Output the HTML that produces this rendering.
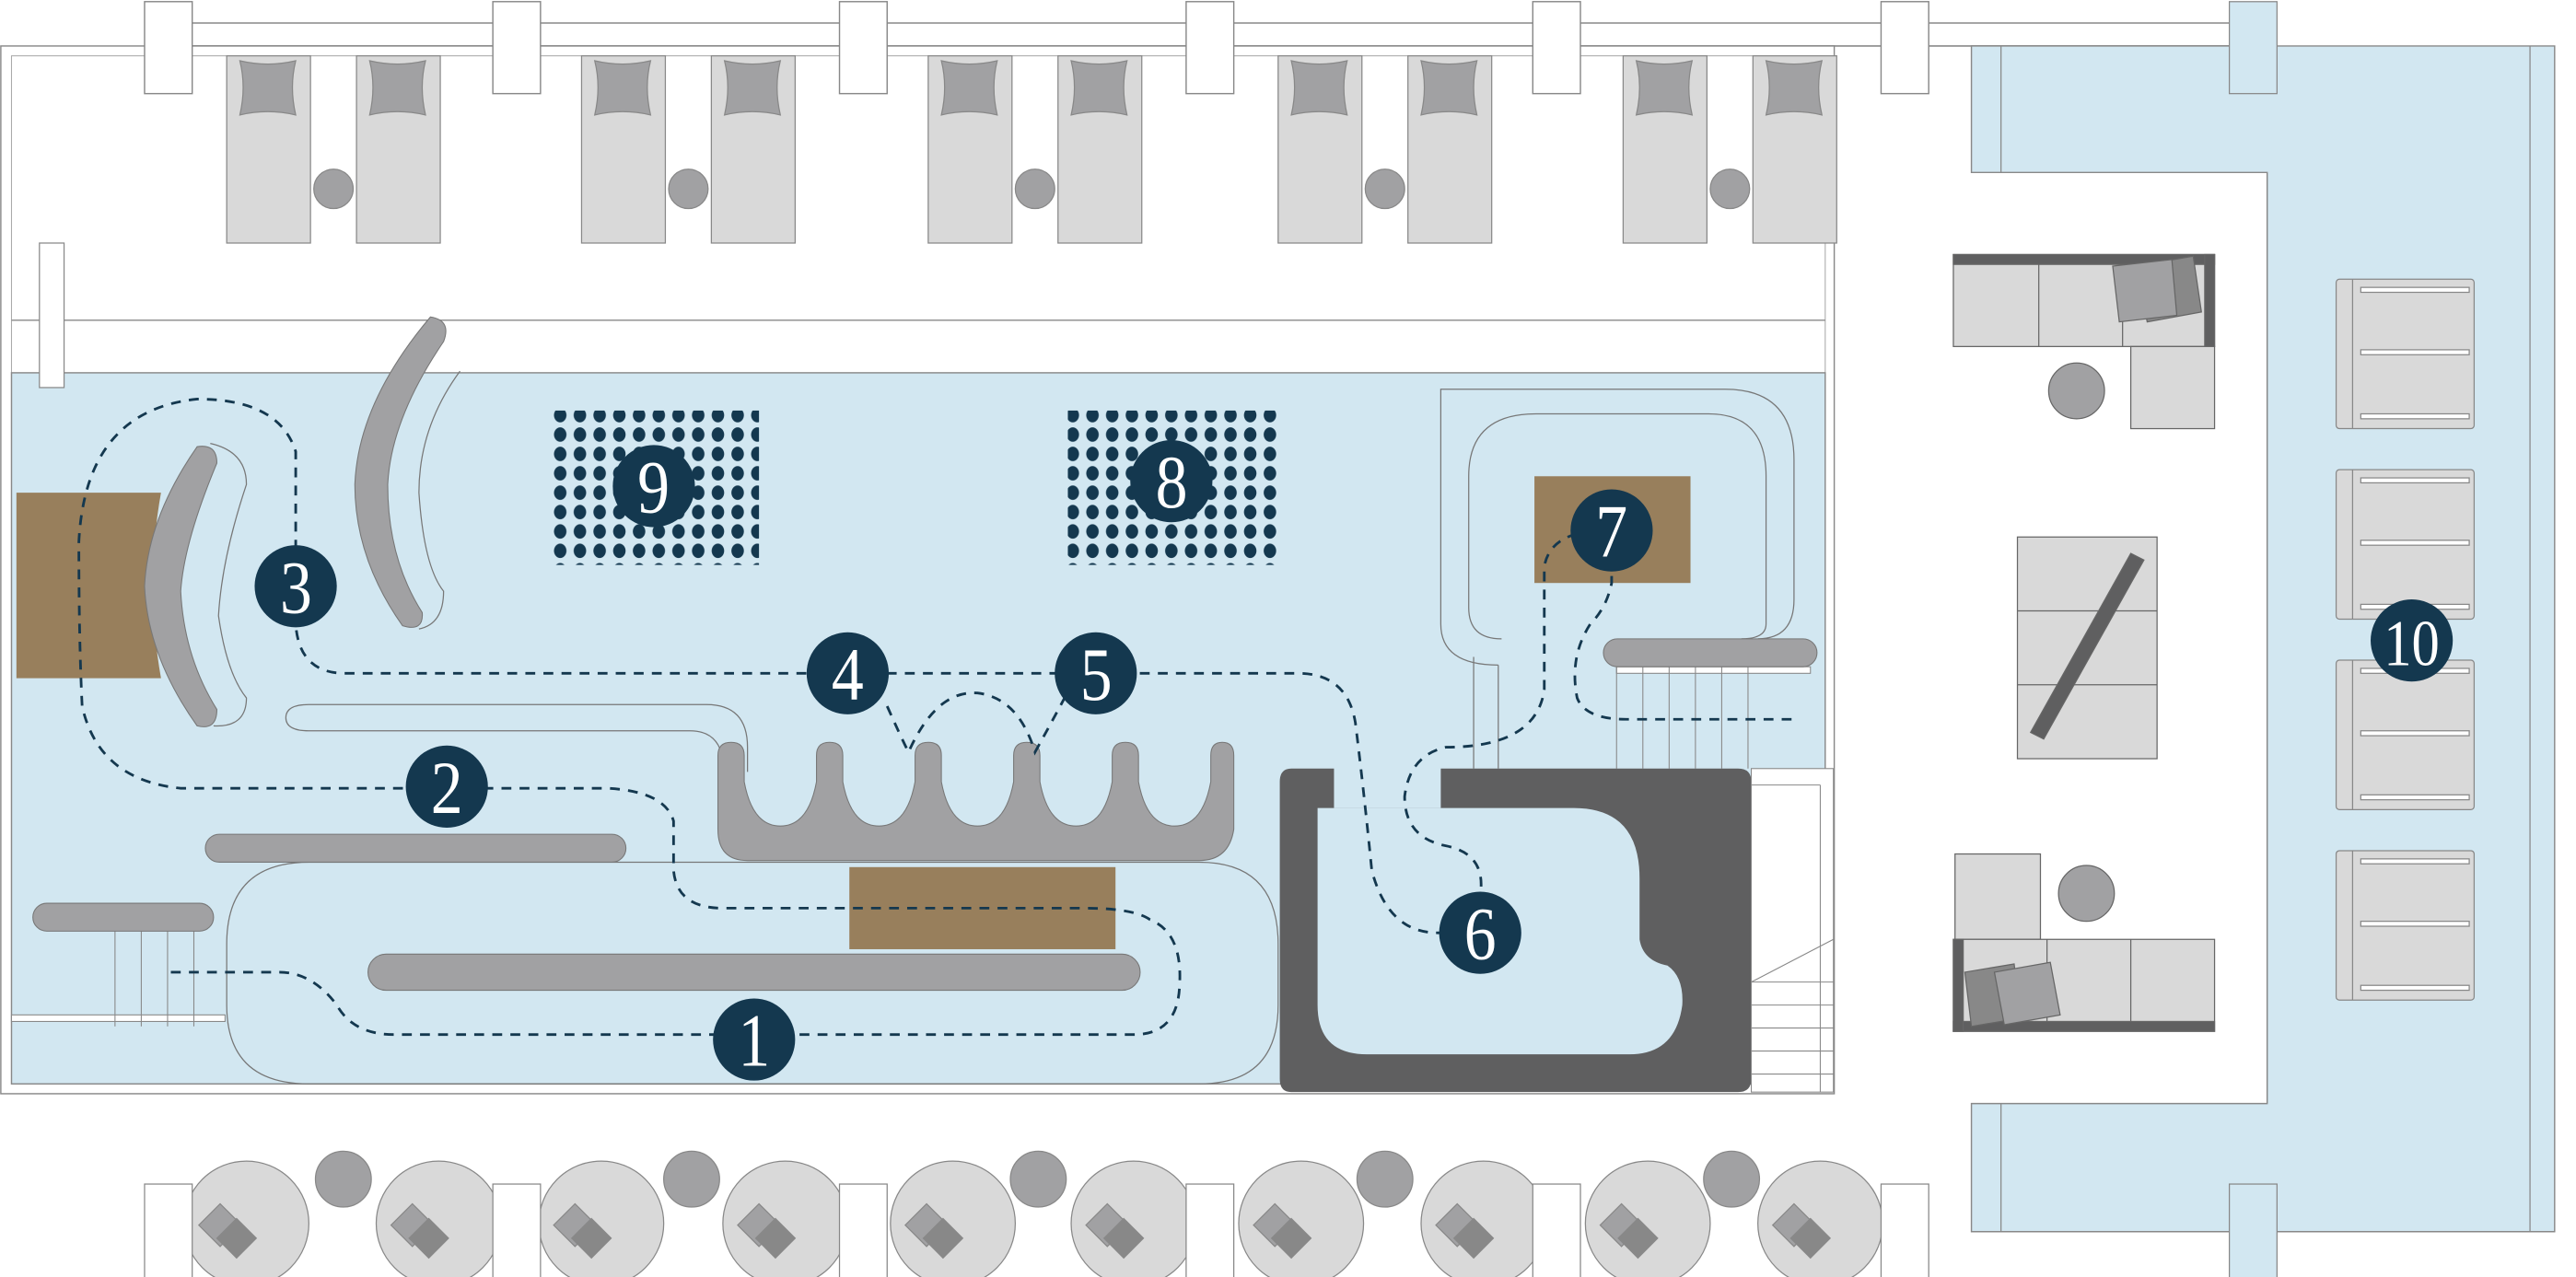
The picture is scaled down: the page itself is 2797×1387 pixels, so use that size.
<!DOCTYPE html>
<html><head><meta charset="utf-8"><style>html,body{margin:0;padding:0;background:#fff}svg{display:block}</style></head>
<body>
<svg width="2797" height="1387" viewBox="0 0 1568 777.6" preserveAspectRatio="none" xmlns="http://www.w3.org/2000/svg">
<defs>
<pattern id="dots" x="0" y="0" width="12" height="11.8" patternUnits="userSpaceOnUse"><ellipse cx="5" cy="5" rx="3.8" ry="4.4" fill="#14384f"/></pattern>
</defs>
<rect width="1568" height="778" fill="#fff"/>
<line x1="88" y1="14" x2="1385" y2="14" stroke="#999" stroke-width="1"/>
<line x1="88" y1="28" x2="1385" y2="28" stroke="#999" stroke-width="1"/>
<path d="M1200,28 H1555 V750 H1200 V672 H1380 V105 H1200 Z" fill="#d2e7f1" stroke="#888" stroke-width="0.8"/>
<line x1="1218" y1="28" x2="1218" y2="105" stroke="#888" stroke-width="0.7"/>
<line x1="1218" y1="672" x2="1218" y2="750" stroke="#888" stroke-width="0.7"/>
<line x1="1540" y1="28" x2="1540" y2="750" stroke="#888" stroke-width="0.7"/>
<line x1="1380" y1="105" x2="1380" y2="672" stroke="#888" stroke-width="0.7"/>
<rect x="0.5" y="28" width="1116" height="638" fill="#fff" stroke="#888" stroke-width="0.8"/>
<rect x="7" y="34" width="1104" height="626" fill="none" stroke="#aaa" stroke-width="0.6"/>
<line x1="7" y1="195" x2="1111" y2="195" stroke="#888" stroke-width="0.8"/>
<rect x="7" y="227" width="1104" height="433" fill="#d2e7f1" stroke="#888" stroke-width="0.8"/>
<rect x="24" y="148" width="15" height="88" fill="#fff" stroke="#888" stroke-width="0.7"/>
<g fill="#fff" stroke="#888" stroke-width="0.8">
<rect x="88" y="1" width="29" height="56"/><rect x="300" y="1" width="29" height="56"/><rect x="511" y="1" width="29" height="56"/><rect x="722" y="1" width="29" height="56"/><rect x="933" y="1" width="29" height="56"/><rect x="1145" y="1" width="29" height="56"/>
</g>
<g id="pair" stroke="#888" stroke-width="0.7">
<rect x="138" y="34" width="51" height="114" fill="#d9d9d9"/><rect x="217" y="34" width="51" height="114" fill="#d9d9d9"/>
<path d="M146,37 Q163,41 180,37 Q176,53 180,70 Q163,66 146,70 Q150,53 146,37Z" fill="#a1a1a3"/>
<path d="M225,37 Q242,41 259,37 Q255,53 259,70 Q242,66 225,70 Q229,53 225,37Z" fill="#a1a1a3"/>
<circle cx="203" cy="115" r="12" fill="#a1a1a3"/>
</g>
<use href="#pair" x="216"/><use href="#pair" x="427"/><use href="#pair" x="640"/><use href="#pair" x="850"/>
<g fill="none" stroke="#777" stroke-width="0.7">
<path d="M188,429 H430 Q455,429 455,455 V470 M188,429 Q174,429 174,437 Q174,445 188,445 H420 Q437,445 440,462"/>
<path d="M188,525 H730 Q778,525 778,575 V612 Q778,660 730,660 H188 Q138,660 138,612 V575 Q138,525 188,525Z"/>
<path d="M912,405 Q877,405 877,380 V237 H1050 Q1092,237 1092,280 V365 Q1092,389 1070,389 M914,389 Q894,389 894,370 V290 Q894,252 935,252 H1040 Q1075,252 1075,290 V380 Q1075,389 1060,389"/>
<line x1="912" y1="405" x2="912" y2="468"/><line x1="897" y1="400" x2="897" y2="468"/>
<path d="M128,270 Q150,275 150,295 Q135,340 133,375 Q138,410 150,425 Q150,443 130,442"/>
<path d="M280,226 Q255,260 255,300 Q258,345 270,360 Q270,380 255,383"/>
</g>
<g stroke="#888" stroke-width="0.6" fill="none">
<rect x="7" y="618" width="130" height="4" fill="#fff"/>
<line x1="70" y1="567" x2="70" y2="625"/><line x1="86" y1="567" x2="86" y2="625"/><line x1="102" y1="567" x2="102" y2="625"/><line x1="118" y1="567" x2="118" y2="625"/>
<rect x="984" y="406" width="118" height="4" fill="#fff"/>
<line x1="984" y1="406" x2="984" y2="468"/><line x1="1000" y1="406" x2="1000" y2="468"/><line x1="1016" y1="406" x2="1016" y2="468"/><line x1="1032" y1="406" x2="1032" y2="468"/><line x1="1048" y1="406" x2="1048" y2="468"/><line x1="1064" y1="406" x2="1064" y2="468"/>
</g>
<g fill="#987f5c">
<path d="M10,300 H98 Q88,356 98,413 H10Z"/>
<rect x="517" y="528" width="162" height="50"/>
<rect x="934" y="290" width="95" height="65"/>
</g>
<g fill="#a1a1a3" stroke="#777" stroke-width="0.6">
<rect x="125" y="508" width="256" height="17" rx="8.5"/>
<rect x="224" y="581" width="470" height="22" rx="11"/>
<rect x="20" y="550" width="110" height="17" rx="8.5"/>
<rect x="976" y="389" width="130" height="17" rx="8.5"/>
<path d="M437,460 Q437,452 445,452 Q453,452 453,460 V476 Q458,503 475,503 Q492,503 497,476 V460 Q497,452 505,452 Q513,452 513,460 V476 Q518,503 535,503 Q552,503 557,476 V460 Q557,452 565,452 Q573,452 573,460 V476 Q578,503 595,503 Q612,503 617,476 V460 Q617,452 625,452 Q633,452 633,460 V476 Q638,503 655,503 Q672,503 677,476 V460 Q677,452 685,452 Q693,452 693,460 V476 Q698,503 715,503 Q732,503 737,476 V460 Q737,452 744,452 Q751,452 751,460 V505 Q748,524 730,524 H455 Q437,524 437,505 Z"/>
<path d="M120,272 Q132,270 132,282 Q112,330 110,360 Q112,400 132,432 Q132,445 120,442 Q90,400 88,357 Q90,315 120,272Z"/>
<path d="M262,193 Q275,195 270,208 Q238,255 236,295 Q236,340 257,373 Q258,385 245,381 Q216,340 216,295 Q218,245 262,193Z"/>
</g>
<rect x="333" y="250" width="129" height="94" fill="url(#dots)"/>
<rect x="650" y="250" width="129" height="94" fill="url(#dots)"/>
<path d="M786,468 H812 V492 H877 V468 H1058 Q1066,468 1066,476 V657 Q1066,665 1058,665 H786 Q779,665 779,657 V476 Q779,468 786,468Z" fill="#5f5f60"/>
<path d="M802,492 H958 Q998,492 998,535 V572 Q1000,585 1015,588 Q1025,595 1024,612 Q1020,642 992,642 H832 Q802,642 802,612 Z" fill="#d2e7f1"/>
<g stroke="#888" stroke-width="0.6" fill="#fff">
<rect x="1066" y="468" width="50" height="197"/>
<line x1="1066" y1="478" x2="1108" y2="478"/><line x1="1108" y1="478" x2="1108" y2="665"/>
<line x1="1066" y1="598" x2="1116" y2="572"/><line x1="1066" y1="598" x2="1116" y2="598"/><line x1="1066" y1="612" x2="1116" y2="612"/><line x1="1066" y1="626" x2="1116" y2="626"/><line x1="1066" y1="640" x2="1116" y2="640"/><line x1="1066" y1="654" x2="1116" y2="654"/>
</g>
<path d="M104,592 H170 Q190,592 205,612 Q215,630 240,630 H690 Q717,630 718,600 Q720,568 700,560 Q690,553 660,553 H440 Q412,553 410,530 V500 Q405,482 370,480 H110 Q60,475 50,430 Q48,390 48,330 Q52,250 120,243 Q170,243 180,275 V380 Q182,410 210,410 H790 Q820,410 825,440 Q830,480 835,530 Q845,568 875,568 H901 V545 Q905,520 880,515 Q855,510 855,485 Q858,460 880,455 Q935,455 940,420 Q940,380 940,345 Q944,322 981,323 V355 Q978,370 968,380 Q955,400 960,425 Q965,438 990,438 H1092" fill="none" stroke="#14384f" stroke-width="1.6" stroke-dasharray="6,5"/>
<path d="M540,430 Q548,448 553,458 Q570,420 595,422 Q620,425 630,458 Q640,440 648,425" fill="none" stroke="#14384f" stroke-width="1.6" stroke-dasharray="6,5"/>
<g stroke="#666" stroke-width="0.7">
<rect x="1189" y="155" width="159" height="56" fill="#d9d9d9"/>
<rect x="1189" y="155" width="159" height="6" fill="#5f5f60"/>
<rect x="1342" y="155" width="6" height="56" fill="#5f5f60"/>
<line x1="1241" y1="161" x2="1241" y2="211"/><line x1="1292" y1="161" x2="1292" y2="211"/>
<rect x="1297" y="211" width="51" height="50" fill="#d9d9d9"/>
<path d="M1300,162 L1335,156 L1340,190 L1307,196Z" fill="#888"/>
<path d="M1286,162 L1322,158 L1325,192 L1290,196Z" fill="#a1a1a3"/>
<circle cx="1264" cy="238" r="17" fill="#a1a1a3"/>
<rect x="1228" y="327" width="85" height="135" fill="#d9d9d9"/>
<line x1="1228" y1="372" x2="1313" y2="372"/><line x1="1228" y1="417" x2="1313" y2="417"/>
<path d="M1297,337 L1305,341 L1244,450 L1236,446Z" fill="#5f5f60"/>
<rect x="1190" y="520" width="52" height="52" fill="#d9d9d9"/>
<circle cx="1270" cy="544" r="17" fill="#a1a1a3"/>
<rect x="1189" y="572" width="159" height="56" fill="#d9d9d9"/>
<rect x="1189" y="622" width="159" height="6" fill="#5f5f60"/>
<rect x="1189" y="572" width="6" height="56" fill="#5f5f60"/>
<line x1="1246" y1="572" x2="1246" y2="622"/><line x1="1297" y1="572" x2="1297" y2="622"/>
<path d="M1196,592 L1226,587 L1230,620 L1200,625Z" fill="#888"/>
<path d="M1214,592 L1248,586 L1254,618 L1220,624Z" fill="#a1a1a3"/>
</g>
<g id="lng" stroke="#888" stroke-width="0.7" fill="#d9d9d9">
<rect x="1422" y="170" width="84" height="91" rx="2"/>
<line x1="1432" y1="170" x2="1432" y2="261"/>
<rect x="1437" y="175" width="66" height="3" fill="#fff"/><rect x="1437" y="213" width="66" height="3" fill="#fff"/><rect x="1437" y="252" width="66" height="3" fill="#fff"/>
</g>
<use href="#lng" y="116"/><use href="#lng" y="232"/><use href="#lng" y="348"/>
<g stroke="#888" stroke-width="0.7">
<g id="bt"><circle cx="150" cy="745" r="38" fill="#d9d9d9"/><path d="M121,746 L134,733 L147,746 L134,759Z" fill="#a1a1a3"/><path d="M132,754 L144,742 L156,754 L144,766Z" fill="#888"/></g>
<use href="#bt" x="117"/><use href="#bt" x="216"/><use href="#bt" x="328"/><use href="#bt" x="430"/><use href="#bt" x="540"/><use href="#bt" x="642"/><use href="#bt" x="753"/><use href="#bt" x="853"/><use href="#bt" x="958"/>
<circle cx="209" cy="718" r="17" fill="#a1a1a3"/><circle cx="421" cy="718" r="17" fill="#a1a1a3"/><circle cx="632" cy="718" r="17" fill="#a1a1a3"/><circle cx="843" cy="718" r="17" fill="#a1a1a3"/><circle cx="1054" cy="718" r="17" fill="#a1a1a3"/>
<g fill="#fff"><rect x="88" y="721" width="29" height="57"/><rect x="300" y="721" width="29" height="57"/><rect x="511" y="721" width="29" height="57"/><rect x="722" y="721" width="29" height="57"/><rect x="933" y="721" width="29" height="57"/><rect x="1145" y="721" width="29" height="57"/><rect x="1357" y="721" width="29" height="57" fill="#d2e7f1"/><rect x="1357" y="1" width="29" height="56" fill="#d2e7f1"/></g>
</g>
<g font-family="'Liberation Serif',serif" font-size="46" fill="#fff" text-anchor="middle">
<g fill="#14384f"><circle cx="459" cy="633" r="25"/><circle cx="272" cy="479" r="25"/><circle cx="180" cy="357" r="25"/><circle cx="516" cy="410" r="25"/><circle cx="667" cy="410" r="25"/><circle cx="901" cy="568" r="25"/><circle cx="981" cy="323" r="25"/><circle cx="713" cy="293" r="25"/><circle cx="398" cy="296" r="25"/><circle cx="1468" cy="390" r="25"/></g>
<g transform="scale(0.85,1)">
<text x="540" y="649">1</text><text x="320" y="495">2</text><text x="212" y="373">3</text><text x="607" y="426">4</text><text x="785" y="426">5</text><text x="1060" y="584">6</text><text x="1154" y="339">7</text><text x="839" y="309">8</text><text x="468" y="312">9</text><text x="1727" y="405" font-size="40">10</text>
</g>
</g>
</svg>
</body></html>
